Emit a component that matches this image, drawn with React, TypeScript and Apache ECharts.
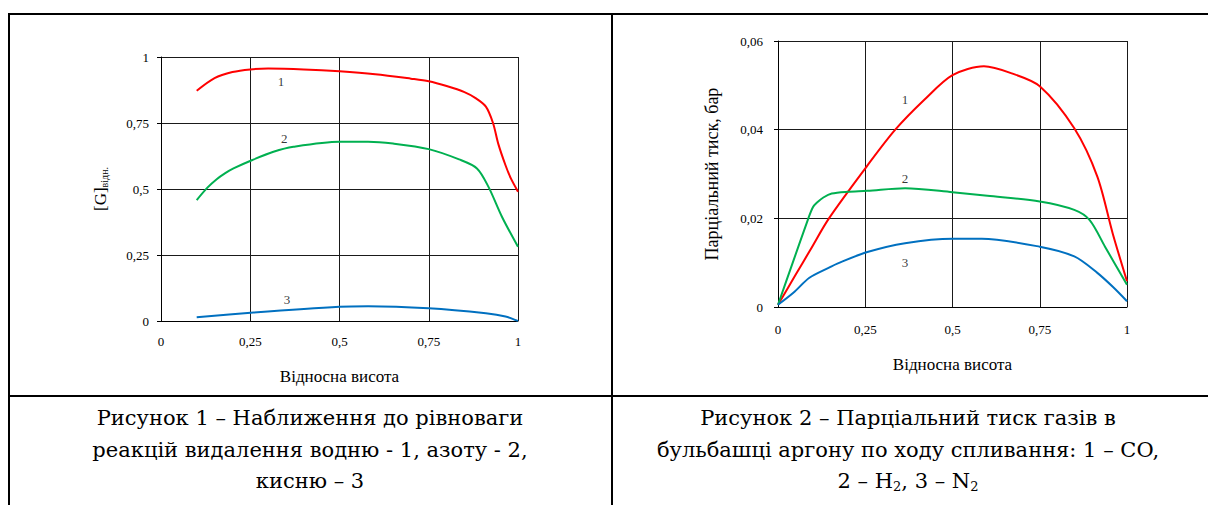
import React, { useEffect, useRef } from "react";
import * as echarts from "echarts";

// ---------- Data: Figure 1 (left) ----------
const leftRedX = [0.1, 0.15, 0.2, 0.25, 0.3, 0.4, 0.5, 0.6, 0.7, 0.75, 0.8, 0.85, 0.88, 0.91, 0.93, 0.945, 0.965, 0.98, 1.0];
const leftRedY = [0.872, 0.92, 0.943, 0.953, 0.956, 0.953, 0.946, 0.935, 0.918, 0.908, 0.89, 0.867, 0.845, 0.812, 0.75, 0.67, 0.59, 0.54, 0.49];
const leftGreenX = [0.1, 0.13, 0.156, 0.18, 0.203, 0.256, 0.315, 0.371, 0.5, 0.58, 0.65, 0.75, 0.835, 0.885, 0.917, 0.955, 1.0];
const leftGreenY = [0.458, 0.505, 0.537, 0.56, 0.578, 0.61, 0.641, 0.66, 0.679, 0.679, 0.672, 0.651, 0.612, 0.578, 0.509, 0.395, 0.281];
const leftBlueX = [0.1, 0.26, 0.5, 0.58, 0.75, 0.91, 0.965, 1.0];
const leftBlueY = [0.014, 0.032, 0.054, 0.056, 0.048, 0.029, 0.017, 0.0];
const leftLabels: [number, number, string][] = [
  [0.336, 0.906, "1"],
  [0.345, 0.693, "2"],
  [0.353, 0.083, "3"],
];

// ---------- Data: Figure 2 (right) ----------
const rightRedX = [0, 0.05, 0.092, 0.146, 0.256, 0.336, 0.42, 0.5, 0.59, 0.67, 0.75, 0.849, 0.915, 0.959, 1.0];
const rightRedY = [0.0005, 0.0072, 0.0128, 0.02, 0.0319, 0.04, 0.0468, 0.0523, 0.0543, 0.0527, 0.0498, 0.0403, 0.0294, 0.0166, 0.0058];
const rightGreenX = [0, 0.04, 0.087, 0.1, 0.111, 0.13, 0.154, 0.2, 0.256, 0.364, 0.5, 0.6, 0.75, 0.849, 0.893, 0.937, 1.0];
const rightGreenY = [0.0005, 0.0095, 0.02, 0.0225, 0.0235, 0.0247, 0.0256, 0.026, 0.0262, 0.0268, 0.0259, 0.0251, 0.0238, 0.0219, 0.0196, 0.0136, 0.005];
const rightBlueX = [0, 0.044, 0.09, 0.149, 0.17, 0.256, 0.364, 0.5, 0.584, 0.75, 0.849, 0.915, 0.96, 1.0];
const rightBlueY = [0.0005, 0.0032, 0.0066, 0.009, 0.0098, 0.0124, 0.0144, 0.0154, 0.0154, 0.0136, 0.0114, 0.0077, 0.0045, 0.0013];
const rightLabels: [number, number, string][] = [
  [0.364, 0.0469, "1"],
  [0.364, 0.0289, "2"],
  [0.364, 0.00997, "3"],
];

// ---------- Texts ----------
const xAxisTitle = "Відносна висота";
const leftYTitle = "{a|[G]}{b|відн.}";
const rightYTitle = "Парціальний тиск, бар";
const leftCaption = [
  "Рисунок 1 – Наближення до рівноваги",
  "реакцій видалення водню - 1, азоту - 2,",
  "кисню – 3",
];
const rightCaption = [
  "Рисунок 2 – Парціальний тиск газів в",
  "бульбашці аргону по ходу спливання: 1 – CO,",
  "2 – H{s|2}, 3 – N{s|2}",
];

const RED = "#ff0000";
const GREEN = "#00b050";
const BLUE = "#0070c0";
const serif = "Liberation Serif";
const capFont = "DejaVu Serif";

const fmt = (v: number) => String(parseFloat(v.toFixed(4))).replace(".", ",");
const zip = (xs: number[], ys: number[]) => xs.map((x, i) => [x, ys[i]]);

function makeX(idx: number, gap: number, margin: number) {
  return {
    type: "value",
    gridIndex: idx,
    min: 0,
    max: 1,
    interval: 0.25,
    name: xAxisTitle,
    nameLocation: "middle",
    nameGap: gap,
    nameTextStyle: { fontFamily: serif, fontSize: 17, color: "#000" },
    axisLine: { show: true, onZero: false, lineStyle: { color: "#000", width: 1 } },
    axisTick: { show: false },
    axisLabel: { color: "#000", fontFamily: serif, fontSize: 13, margin, formatter: fmt },
    splitLine: { show: true, lineStyle: { color: "#1a1a1a", width: 1 } },
  };
}

function lineSeries(data: number[][], color: string, idx: number) {
  return {
    type: "line",
    xAxisIndex: idx,
    yAxisIndex: idx,
    data,
    smooth: 0.3,
    showSymbol: false,
    symbol: "none",
    clip: false,
    silent: true,
    lineStyle: { color, width: 2 },
  };
}

function labelSeries(data: [number, number, string][], idx: number) {
  return {
    type: "scatter",
    xAxisIndex: idx,
    yAxisIndex: idx,
    data,
    symbolSize: 1,
    silent: true,
    itemStyle: { color: "rgba(255,255,255,0)" },
    label: {
      show: true,
      position: "top",
      distance: -7,
      formatter: (p: any) => p.data[2],
      fontFamily: serif,
      fontSize: 13,
      color: "#000000",
    },
  };
}

function captionTexts(lines: string[], cx: number, y0: number) {
  return lines.map((t, i) => ({
    type: "text",
    x: cx,
    y: y0 + i * 31.5,
    style: {
      text: t,
      align: "center",
      verticalAlign: "middle",
      font: `21px "${capFont}"`,
      fill: "#000",
      rich: {
        s: { fontSize: 13, fontFamily: capFont, fill: "#000", padding: [10, 0, 0, 0] },
      },
    },
  }));
}

const borderStyle = { stroke: "#000", lineWidth: 2 };

export default function App() {
  const ref = useRef<HTMLDivElement>(null);
  useEffect(() => {
    if (!ref.current) return;
    const chart = echarts.init(ref.current, undefined, { renderer: "svg" });
    const option: any = {
      animation: false,
      backgroundColor: "#fff",
      grid: [
        { left: 161, top: 57, width: 357, height: 264 },
        { left: 778, top: 41, width: 349, height: 266 },
      ],
      xAxis: [makeX(0, 47, 14), makeX(1, 49, 16)],
      yAxis: [
        {
          type: "value",
          gridIndex: 0,
          min: 0,
          max: 1,
          interval: 0.25,
          name: leftYTitle,
          nameLocation: "middle",
          nameGap: 52,
          nameTextStyle: {
            fontFamily: serif,
            color: "#000",
            rich: {
              a: { fontSize: 17, fontFamily: serif, color: "#000" },
              b: { fontSize: 10, fontFamily: serif, color: "#000", padding: [8, 0, 0, 0] },
            },
          },
          axisLine: { show: true, lineStyle: { color: "#000", width: 1 } },
          axisTick: { show: true, length: 4, lineStyle: { color: "#000" } },
          axisLabel: { color: "#000", fontFamily: serif, fontSize: 13, margin: 12, formatter: fmt },
          splitLine: { show: true, lineStyle: { color: "#1a1a1a", width: 1 } },
        },
        {
          type: "value",
          gridIndex: 1,
          min: 0,
          max: 0.06,
          interval: 0.02,
          name: rightYTitle,
          nameLocation: "middle",
          nameGap: 57,
          nameTextStyle: { fontFamily: serif, fontSize: 18, color: "#000" },
          axisLine: { show: true, lineStyle: { color: "#000", width: 1 } },
          axisTick: { show: true, length: 4, lineStyle: { color: "#000" } },
          axisLabel: { color: "#000", fontFamily: serif, fontSize: 13, margin: 15, formatter: fmt },
          splitLine: { show: true, lineStyle: { color: "#1a1a1a", width: 1 } },
        },
      ],
      series: [
        lineSeries(zip(leftRedX, leftRedY), RED, 0),
        lineSeries(zip(leftGreenX, leftGreenY), GREEN, 0),
        lineSeries(zip(leftBlueX, leftBlueY), BLUE, 0),
        labelSeries(leftLabels, 0),
        lineSeries(zip(rightRedX, rightRedY), RED, 1),
        lineSeries(zip(rightGreenX, rightGreenY), GREEN, 1),
        lineSeries(zip(rightBlueX, rightBlueY), BLUE, 1),
        labelSeries(rightLabels, 1),
      ],
      graphic: [
        { type: "line", shape: { x1: 8, y1: 14, x2: 1208, y2: 14 }, style: borderStyle, silent: true },
        { type: "line", shape: { x1: 9, y1: 13, x2: 9, y2: 505 }, style: borderStyle, silent: true },
        { type: "line", shape: { x1: 612, y1: 13, x2: 612, y2: 505 }, style: borderStyle, silent: true },
        { type: "line", shape: { x1: 8, y1: 396, x2: 1208, y2: 396 }, style: borderStyle, silent: true },
        ...captionTexts(leftCaption, 310, 418),
        ...captionTexts(rightCaption, 908, 418),
      ],
    };
    chart.setOption(option);
    return () => chart.dispose();
  }, []);
  return (
    <div
      ref={ref}
      style={{ position: "absolute", left: 0, top: 0, width: 1208, height: 505 }}
    />
  );
}
